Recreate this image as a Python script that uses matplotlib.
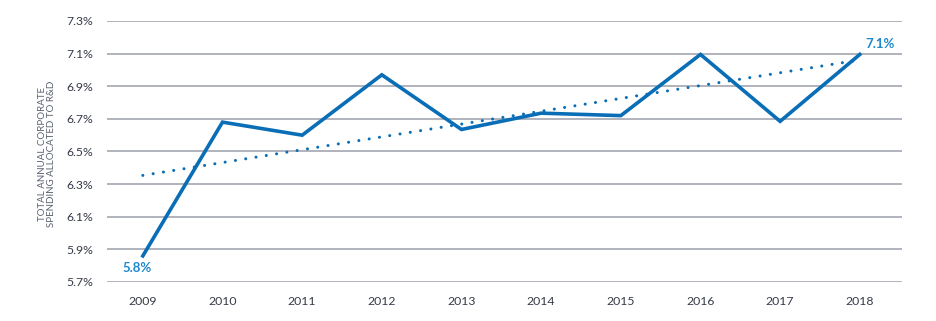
import numpy as np
import matplotlib.pyplot as plt

years = ['2009', '2010', '2011', '2012', '2013', '2014', '2015', '2016', '2017', '2018']
share = [5.86, 6.68, 6.60, 6.97, 6.635, 6.735, 6.72, 7.095, 6.685, 7.095]
y_ticks = [5.7, 5.9, 6.1, 6.3, 6.5, 6.7, 6.9, 7.1, 7.3]

BLUE = '#0a6eb6'
LABEL_BLUE = '#1e88cc'
GRID = '#a3a7b0'
TEXT = '#353b48'

plt.rcParams['font.family'] = ['Lato', 'DejaVu Sans']

fig = plt.figure(figsize=(9.36, 3.21), dpi=100)
ax = fig.add_axes([0.1143, 0.1215, 0.8494, 0.8131])

x = np.arange(len(years))
for t in y_ticks:
    ax.axhline(t, color=GRID, lw=1.2, zorder=1)

# linear trend of the series
slope, icpt = np.polyfit(x, share, 1)
ax.plot(x, slope * x + icpt, color=BLUE, lw=2.2,
        ls=(0, (0.01, 3.4)), dash_capstyle='round', zorder=2)
ax.plot(x, share, color=BLUE, lw=2.6, solid_joinstyle='miter', zorder=3)

ax.text(x[0] - 0.07, share[0] - 0.04, '5.8%', color=LABEL_BLUE,
        fontsize=9.5, fontweight='bold', ha='center', va='top')
ax.text(x[-1] + 0.25, share[-1] + 0.025, '7.1%', color=LABEL_BLUE,
        fontsize=9.5, fontweight='bold', ha='center', va='bottom')

ax.set_xlim(-0.45, 9.53)
ax.set_ylim(5.7, 7.3)
ax.set_xticks(x)
ax.set_xticklabels(years)
ax.set_yticks(y_ticks)
ax.set_yticklabels(['%.1f%%' % t for t in y_ticks])
ax.tick_params(length=0, labelsize=8.8, labelcolor=TEXT, pad=10)
for s in ax.spines.values():
    s.set_visible(False)

fig.text(0.05, 0.52, 'TOTAL ANNUAL CORPORATE\nSPENDING ALLOCATED TO R&D',
         rotation=90, ha='center', va='center', fontsize=7, color='#5a6170',
         linespacing=1.05)

fig.savefig('out.png', dpi=100)
